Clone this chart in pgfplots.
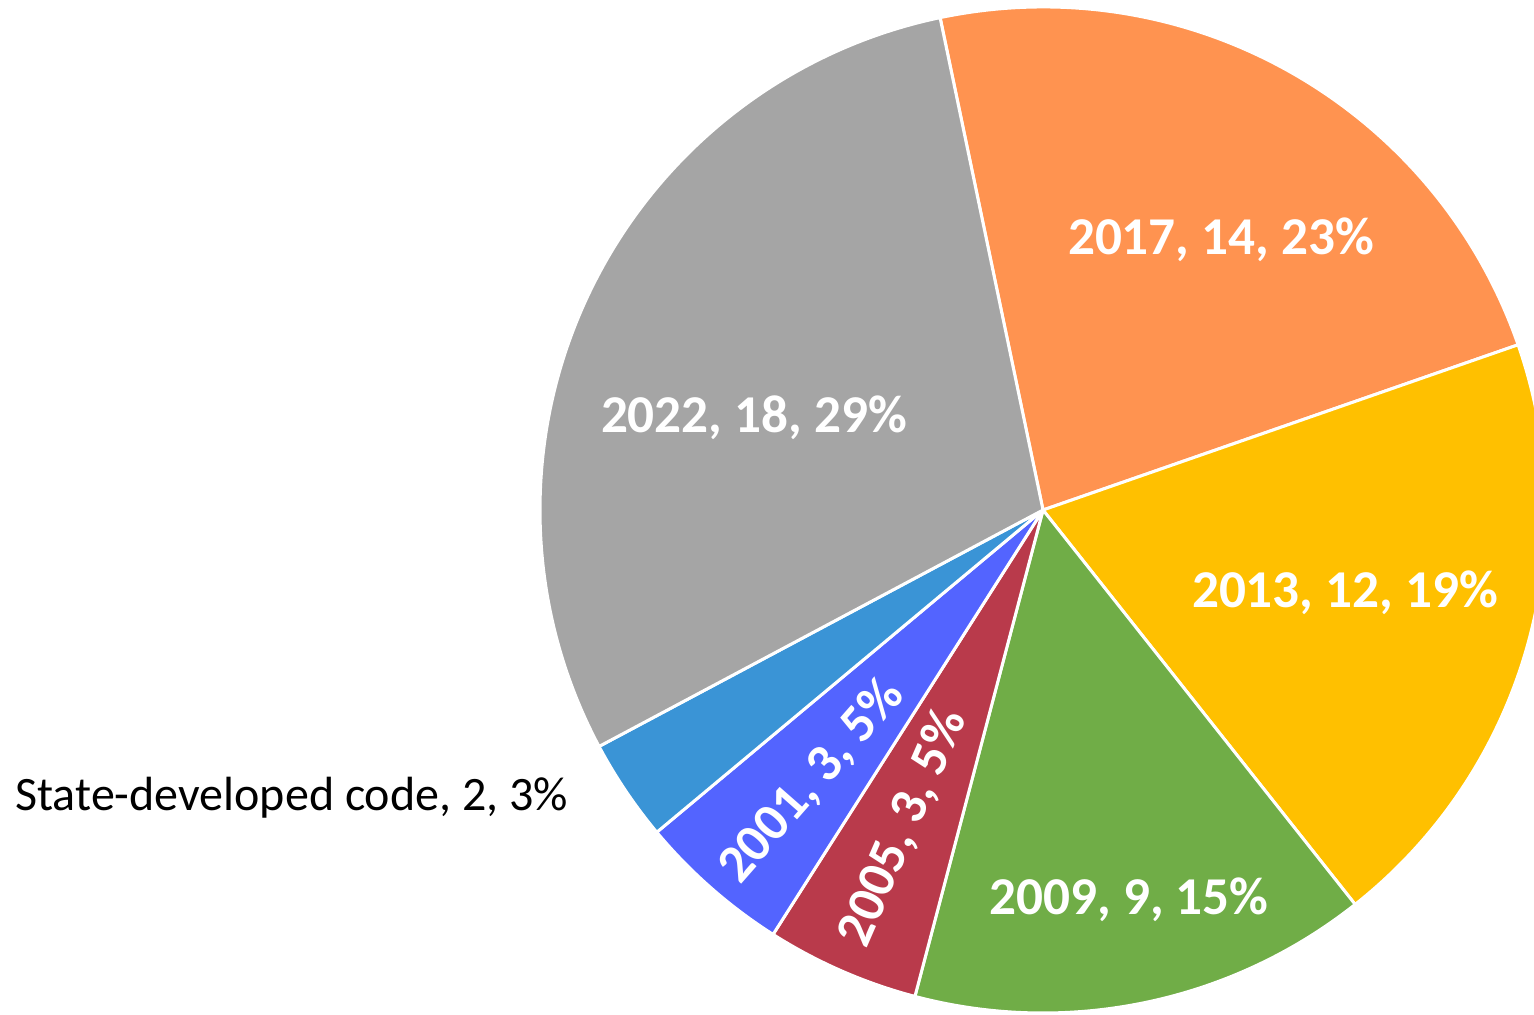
\documentclass[border=0pt]{standalone}
\usepackage{pgfplots}
\usepackage{pgfplotstable}
\pgfplotsset{compat=1.18}
\usepackage{fontspec}
\setmainfont{Carlito}
\definecolor{c2017}{HTML}{FF9350}
\definecolor{c2013}{HTML}{FFC000}
\definecolor{c2009}{HTML}{70AD47}
\definecolor{c2005}{HTML}{B93A4B}
\definecolor{c2001}{HTML}{5364FF}
\definecolor{cstate}{HTML}{3A94D6}
\definecolor{c2022}{HTML}{A5A5A5}
\pgfplotstableread[col sep=semicolon]{
name;value;pct;col;lx;ly;rot;anc;sty
2017;14;23;c2017;1221;760;0;base;lblin
2013;12;19;c2013;1345;407;0;base;lblin
2009;9;15;c2009;1129;100;0;base;lblin
2005;3;5;c2005;903;186;66.5;center;lblin
2001;3;5;c2001;812;233;48.75;center;lblin
State-developed code;2;3;cstate;15;204;0;base west;lblout
2022;18;29;c2022;754;582;0;base;lblin
}\piedata
\begin{document}
\begin{tikzpicture}
\tikzset{
  lblin/.style={text=white,font=\fontsize{26.6}{30}\selectfont\bfseries,inner sep=0pt},
  lblout/.style={text=black,font=\fontsize{24}{28}\selectfont,inner sep=0pt}
}
\begin{axis}[x=0.5pt,y=0.5pt,xmin=0,xmax=1534,ymin=0,ymax=1014,hide axis,clip=true]
\addplot[draw=none] coordinates {(0,0) (1534,1014)};
\pgfplotsextra{
  \pgfplotstablegetrowsof{\piedata}
  \pgfmathtruncatemacro{\nrows}{\pgfplotsretval-1}
  \xdef\pietotal{0}
  \foreach \i in {0,...,\nrows}{
    \pgfplotstablegetelem{\i}{value}\of\piedata
    \pgfmathsetmacro{\tmpsum}{\pietotal+\pgfplotsretval}
    \xdef\pietotal{\tmpsum}
  }
  \xdef\piecur{101.8}
  \foreach \i in {0,...,\nrows}{
    \pgfplotstablegetelem{\i}{value}\of\piedata \let\pval\pgfplotsretval
    \pgfplotstablegetelem{\i}{col}\of\piedata \let\pcol\pgfplotsretval
    \pgfmathsetmacro{\pend}{\piecur-\pval/\pietotal*360}
    \fill[overlay,fill=\pcol,draw=white,line width=1.5pt,line join=round]
      (axis cs:1043,504) -- ++(\piecur:251.5pt)
      arc[start angle=\piecur,end angle=\pend,radius=251.5pt] -- cycle;
    \xdef\piecur{\pend}
  }
  \foreach \i in {0,...,\nrows}{
    \pgfplotstablegetelem{\i}{name}\of\piedata \let\pname\pgfplotsretval
    \pgfplotstablegetelem{\i}{value}\of\piedata \let\pval\pgfplotsretval
    \pgfplotstablegetelem{\i}{pct}\of\piedata \let\ppct\pgfplotsretval
    \pgfplotstablegetelem{\i}{lx}\of\piedata \let\plx\pgfplotsretval
    \pgfplotstablegetelem{\i}{ly}\of\piedata \let\ply\pgfplotsretval
    \pgfplotstablegetelem{\i}{rot}\of\piedata \let\prot\pgfplotsretval
    \pgfplotstablegetelem{\i}{anc}\of\piedata \let\panc\pgfplotsretval
    \pgfplotstablegetelem{\i}{sty}\of\piedata \let\psty\pgfplotsretval
    \tikzset{curlbl/.style/.expanded={\psty,anchor=\panc,rotate=\prot}}
    \node[curlbl] at (axis cs:\plx,\ply) {\pname, \pval, \ppct\%};
  }
}
\end{axis}
\end{tikzpicture}
\end{document}
